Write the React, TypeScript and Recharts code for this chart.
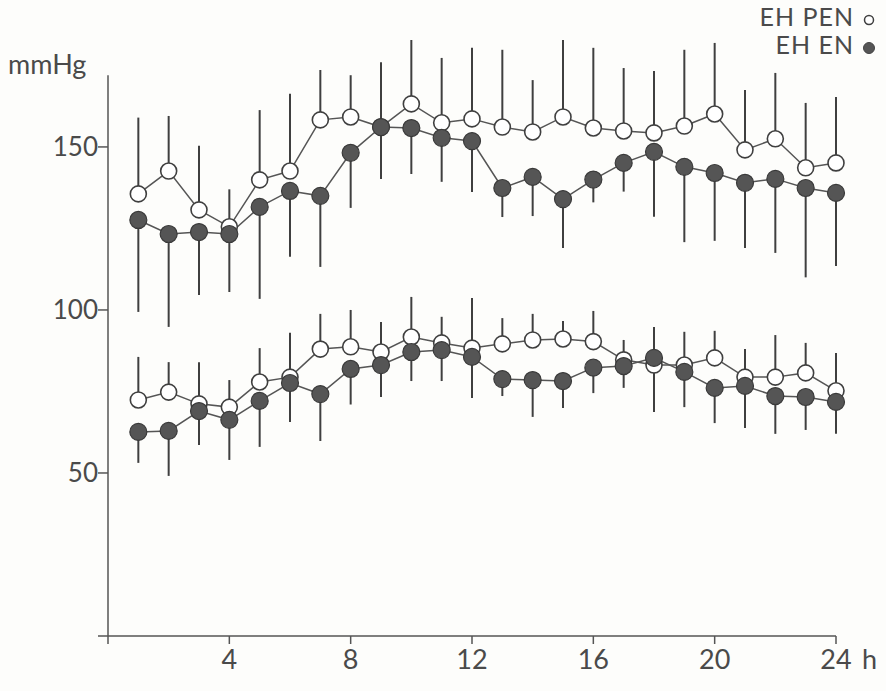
import React from 'react';
import { ComposedChart, Line, XAxis, YAxis, ErrorBar, ReferenceLine, Legend } from 'recharts';

const hours = [1, 2, 3, 4, 5, 6, 7, 8, 9, 10, 11, 12, 13, 14, 15, 16, 17, 18, 19, 20, 21, 22, 23, 24];

// Systolic, EH PEN (open circles): mean and upper end of the bar
const sysPenMean = [135.6, 142.6, 130.7, 125.5, 139.9, 142.6, 158.3, 159.2, 156.1, 163.2, 157.4, 158.6, 156.1, 154.6, 159.2, 155.8, 154.9, 154.3, 156.4, 160.1, 149.1, 152.5, 143.6, 145.1];
const sysPenUpper = [159, 159.5, 150.4, 137, 161.3, 166.3, 173.6, 172, 176, 182.8, 177.3, 180.4, 179.8, 170.5, 182.8, 180.4, 174.2, 173.3, 179.8, 181.9, 167.5, 172.7, 163.5, 165.3];

// Systolic, EH EN (filled circles): mean and lower end of the bar
const sysEnMean = [127.6, 123.3, 123.9, 123.3, 131.6, 136.5, 135, 148.2, 156.1, 155.8, 152.8, 151.8, 137.4, 140.8, 134, 140, 145.1, 148.5, 143.9, 142, 139, 140.2, 137.4, 135.9];
const sysEnLower = [99.4, 94.8, 104.6, 105.5, 103.4, 116.3, 113.2, 131.3, 140.2, 141.7, 139.3, 136.2, 128.5, 128.8, 119, 133, 136.3, 128.6, 120.8, 121.2, 119, 117.5, 110, 113.5];

// Diastolic, EH PEN (open circles)
const diaPenMean = [72.4, 74.8, 71.2, 70.2, 77.9, 79.4, 88, 88.7, 87.1, 91.7, 89.9, 88.3, 89.6, 90.8, 91.1, 90.3, 84.7, 83.1, 83.1, 85.3, 79.4, 79.4, 80.7, 75.2];
const diaPenUpper = [85.6, 84, 84, 78.5, 88.3, 93, 98.8, 100, 96.3, 104, 97.9, 103.7, 97.5, 98.8, 96.6, 99.7, 90.8, 94.8, 93.3, 93.6, 88, 92.3, 89.9, 86.8];

// Diastolic, EH EN (filled circles)
const diaEnMean = [62.6, 62.9, 69, 66.3, 72.1, 77.6, 74.2, 81.9, 83.1, 87.1, 87.7, 85.6, 78.8, 78.5, 78.2, 82.3, 82.8, 85.3, 81, 76.1, 76.7, 73.6, 73.3, 71.8];
const diaEnLower = [53.1, 49.1, 58.6, 54, 58, 65.6, 59.8, 71, 73.3, 78.2, 78.2, 73, 73.6, 67.2, 69.9, 74.5, 76.1, 68.7, 70.2, 65.3, 63.8, 62, 63.2, 62];

const xTicks = [0, 4, 8, 12, 16, 20, 24];
const yTicks = [0, 50, 100, 150];
const yAxisTop = 172;
const xUnit = 'h';
const yUnit = 'mmHg';
const legendOpen = 'EH PEN';
const legendFilled = 'EH EN';

const data = hours.map((h, i) => ({
  h,
  sysPen: sysPenMean[i],
  sysPenErr: [0, +(sysPenUpper[i] - sysPenMean[i]).toFixed(2)],
  sysEn: sysEnMean[i],
  sysEnErr: [+(sysEnMean[i] - sysEnLower[i]).toFixed(2), 0],
  diaPen: diaPenMean[i],
  diaPenErr: [0, +(diaPenUpper[i] - diaPenMean[i]).toFixed(2)],
  diaEn: diaEnMean[i],
  diaEnErr: [+(diaEnMean[i] - diaEnLower[i]).toFixed(2), 0],
}));

const FONT = 'Lato, "Open Sans", sans-serif';
const INK = '#3f3f3f';
const TEXT = '#4a4a4a';

const XTick = (props: any) => {
  const { x, y, payload } = props;
  const v = payload.value;
  if (v === 0) return <g />;
  return (
    <g>
      <text x={x} y={y} dy={23} textAnchor="middle" fontFamily={FONT} fontSize={27} fill={TEXT}>
        {String(v)}
      </text>
      {v === 24 ? (
        <text x={x + 26} y={y} dy={23} textAnchor="start" fontFamily={FONT} fontSize={27} fill={TEXT}>
          {xUnit}
        </text>
      ) : null}
    </g>
  );
};

const YTick = (props: any) => {
  const { x, y, payload } = props;
  const v = payload.value;
  if (v === 0) return <g />;
  return (
    <text x={x} y={y} dy={9} textAnchor="end" fontFamily={FONT} fontSize={26} fill={TEXT}>
      {String(v)}
    </text>
  );
};

const LegendBox = () => (
  <div style={{ fontFamily: FONT, fontSize: 25, color: TEXT, textAlign: 'right', lineHeight: '28px', letterSpacing: 1 }}>
    <div style={{ whiteSpace: 'nowrap', height: 28 }}>
      {legendOpen}
      <svg width={18} height={14} style={{ marginLeft: 6, verticalAlign: 'middle' }}>
        <circle cx={9} cy={7} r={4.5} fill="#fff" stroke={INK} strokeWidth={1.5} />
      </svg>
    </div>
    <div style={{ whiteSpace: 'nowrap', height: 28 }}>
      {legendFilled}
      <svg width={18} height={14} style={{ marginLeft: 6, verticalAlign: 'middle' }}>
        <circle cx={9} cy={7} r={5.5} fill="#555" stroke="#444" strokeWidth={1} />
      </svg>
    </div>
  </div>
);

const openDot = { r: 8, fill: '#fff', stroke: INK, strokeWidth: 1.6 };
const filledDot = { r: 8.5, fill: '#555', stroke: '#3a3a3a', strokeWidth: 1.2 };

export default function App() {
  return (
    <div style={{ position: 'absolute', left: 0, top: 0, width: 886, height: 691, background: '#fdfdfb' }}>
      <div style={{ position: 'absolute', left: 8, top: 49, fontFamily: FONT, fontSize: 27, color: TEXT, lineHeight: '30px' }}>
        {yUnit}
      </div>
      <ComposedChart width={886} height={691} data={data} margin={{ top: 10, right: 50, bottom: 0, left: 0 }}>
        <XAxis
          type="number"
          dataKey="h"
          domain={[0, 24]}
          ticks={xTicks}
          height={55}
          tickSize={8}
          tickMargin={2}
          tick={<XTick />}
          axisLine={{ stroke: '#555', strokeWidth: 1.5 }}
          tickLine={{ stroke: '#555', strokeWidth: 1.5 }}
          interval={0}
        />
        <YAxis
          type="number"
          domain={[0, 192]}
          ticks={yTicks}
          width={108}
          tickSize={10}
          tickMargin={0}
          tick={<YTick />}
          axisLine={false}
          tickLine={{ stroke: '#555', strokeWidth: 1.5 }}
          interval={0}
        />
        <ReferenceLine
          segment={[{ x: 0, y: 0 }, { x: 0, y: yAxisTop }]}
          stroke="#555"
          strokeWidth={1.5}
          ifOverflow="visible"
        />
        <Legend
          layout="vertical"
          align="center"
          verticalAlign="middle"
          content={() => <LegendBox />}
          wrapperStyle={{ position: 'absolute', top: 2, right: 8, left: 'auto', width: 'auto' }}
        />
        <Line dataKey="sysPen" type="linear" stroke="#555" strokeWidth={1.5} dot={openDot} activeDot={false} isAnimationActive={false}>
          <ErrorBar dataKey="sysPenErr" width={0} stroke={INK} strokeWidth={2} direction="y" isAnimationActive={false} />
        </Line>
        <Line dataKey="diaPen" type="linear" stroke="#555" strokeWidth={1.5} dot={openDot} activeDot={false} isAnimationActive={false}>
          <ErrorBar dataKey="diaPenErr" width={0} stroke={INK} strokeWidth={2} direction="y" isAnimationActive={false} />
        </Line>
        <Line dataKey="sysEn" type="linear" stroke="#555" strokeWidth={1.5} dot={filledDot} activeDot={false} isAnimationActive={false}>
          <ErrorBar dataKey="sysEnErr" width={0} stroke={INK} strokeWidth={2} direction="y" isAnimationActive={false} />
        </Line>
        <Line dataKey="diaEn" type="linear" stroke="#555" strokeWidth={1.5} dot={filledDot} activeDot={false} isAnimationActive={false}>
          <ErrorBar dataKey="diaEnErr" width={0} stroke={INK} strokeWidth={2} direction="y" isAnimationActive={false} />
        </Line>
      </ComposedChart>
    </div>
  );
}
